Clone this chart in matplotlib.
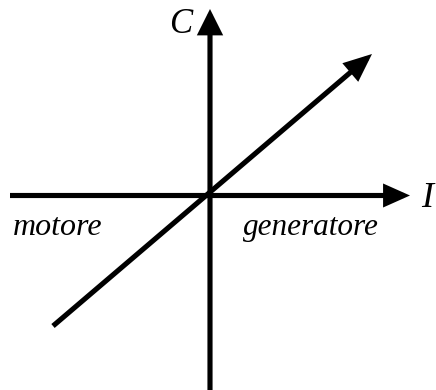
import matplotlib
matplotlib.use("Agg")
import matplotlib.pyplot as plt
from matplotlib.patches import FancyArrowPatch

# Diagram geometry (pixel space of the 436x390 picture, y downward)
axis_h_start = (10, 195.5)
axis_h_tip = (410, 195.5)
axis_v_start = (210, 392)
axis_v_tip = (210, 9)
diag_start = (53, 326)
diag_tip = (372, 54)

labels = ["C", "I", "motore", "generatore"]
label_pos = [(169, 33), (421, 207), (13, 235), (243, 235)]
label_size = [25, 26, 23, 22.5]

fig = plt.figure(figsize=(4.36, 3.90), dpi=100)
ax = fig.add_axes([0, 0, 1, 1])
ax.set_xlim(0, 436)
ax.set_ylim(390, 0)
ax.axis("off")

def arrow(p0, p1, hl, hw):
    a = FancyArrowPatch(p0, p1,
                        arrowstyle=f"-|>,head_length={hl},head_width={hw}",
                        mutation_scale=1, lw=3.7, color="black",
                        shrinkA=0, shrinkB=0, joinstyle="miter", capstyle="butt")
    ax.add_patch(a)

arrow(axis_h_start, axis_h_tip, 13, 5.8)
arrow(axis_v_start, axis_v_tip, 13, 6.5)
arrow(diag_start, diag_tip, 14, 6.0)

for t, (x, y), s in zip(labels, label_pos, label_size):
    ax.text(x, y, t, fontsize=s, family="Liberation Serif", style="italic",
            ha="left", va="baseline", color="black")

fig.savefig("out.png", dpi=100)
